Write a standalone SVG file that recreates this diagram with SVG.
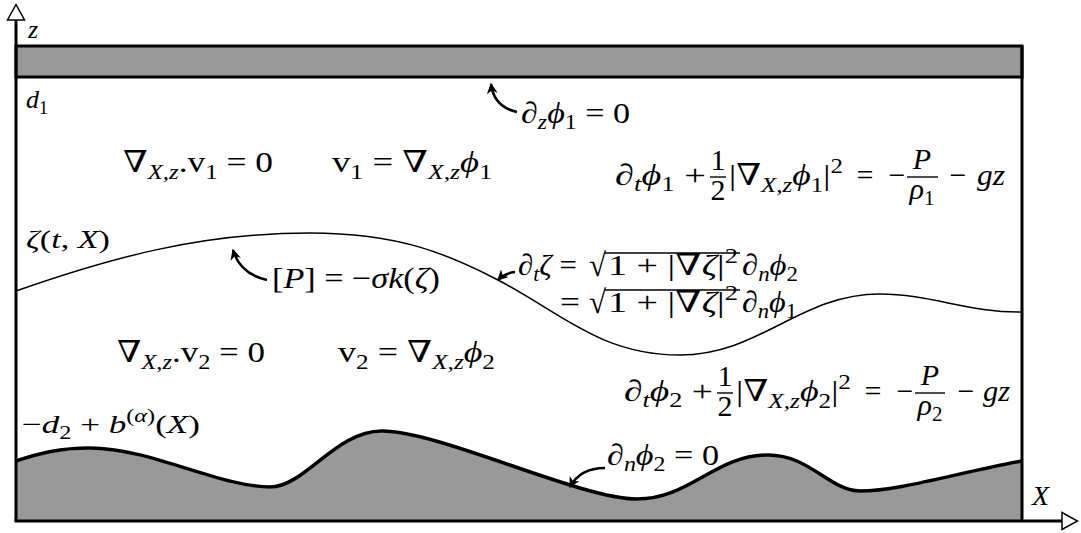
<svg xmlns="http://www.w3.org/2000/svg" width="1081" height="533" viewBox="0 0 1081 533">
<style>
.t{font-family:"Liberation Serif","DejaVu Serif",serif;font-size:30px;fill:#000}
.l{font-size:26px}
.i{font-style:italic}
.s{font-size:21px}
.ss{font-size:18px}
.frame{stroke:#000;stroke-width:3;fill:none}
.wall{stroke:#000;stroke-width:3;fill:#999}
.conn{stroke:#000;stroke-width:2.5;fill:none;marker-end:url(#ah)}
.rule{stroke:#000;stroke-width:1.4}
.rad{font-family:"Liberation Serif","DejaVu Serif",serif;font-size:31px;fill:#000}
</style>
<defs>
<marker id="ah" markerUnits="userSpaceOnUse" markerWidth="12" markerHeight="12" viewBox="0 0 10 10" refX="8" refY="5" orient="auto">
<path d="M0,0.5 L9,5 L0,9.5 L2.5,5 Z" fill="#000"/>
</marker>
</defs>
<rect width="1081" height="533" fill="#fff"/>

<g id="bottom">
<path transform="translate(0,1.5)" d="M16,461 C40,453 60,448 90,448 C150,448 220,487 270,487 C305,487 335,431 382,431 C440,431 580,499 637,499 C690,499 715,455 768,455 C810,455 830,491 860,491 C900,491 960,472 1022,461 L1022,520 L16,520 Z" fill="#999"/>
<path d="M16,461 C40,453 60,448 90,448 C150,448 220,487 270,487 C305,487 335,431 382,431 C440,431 580,499 637,499 C690,499 715,455 768,455 C810,455 830,491 860,491 C900,491 960,472 1022,461" stroke="#000" stroke-width="3.5" fill="none"/>
</g>

<g id="top-wall">
<rect x="16" y="46" width="1006" height="31" class="wall"/>
</g>

<g id="interface">
<path d="M16,291 C110,258 200,233 310,233 C400,233 450,255 498,280 C560,312 600,355 680,355 C760,355 800,294 880,294 C930,294 970,313 1022,312" stroke="#000" stroke-width="1.5" fill="none"/>
</g>

<g id="axes">
<line x1="16" y1="19" x2="16" y2="521" class="frame" stroke-width="2.6"/>
<line x1="1022" y1="46" x2="1022" y2="521" class="frame"/>
<line x1="14.5" y1="521" x2="1062" y2="521" class="frame"/>
<polygon points="7.5,20 16,4.5 24.5,20" fill="#fff" stroke="#000" stroke-width="1.5"/>
<polygon points="1062,512.5 1077.5,521 1062,529.5" fill="#fff" stroke="#000" stroke-width="1.5"/>
<text class="t l i" x="28" y="38">z</text>
<text class="t l i" x="1032" y="505" style="font-size:28px">X</text>
</g>

<g id="connectors">
<path class="conn" d="M517,112 Q494,107 491,84"/>
<path class="conn" d="M267,280 Q240,274 233,250"/>
<path class="conn" d="M515,272 Q505,273 498,280"/>
<path class="conn" d="M605,468 Q580,468 570,487"/>
</g>

<g id="label-d1"><text class="t l" x="26" y="108"><tspan class="i">d</tspan><tspan class="ss" dy="6">1</tspan></text></g>
<g id="label-zeta"><text class="t l" x="26" y="248" textLength="84" lengthAdjust="spacingAndGlyphs"><tspan class="i">ζ</tspan>(<tspan class="i">t</tspan>, <tspan class="i">X</tspan>)</text></g>
<g id="label-bottom"><text class="t l" x="22" y="433" textLength="178" lengthAdjust="spacingAndGlyphs">−<tspan class="i">d</tspan><tspan class="ss" dy="6">2</tspan><tspan dy="-6"> + </tspan><tspan class="i">b</tspan><tspan class="ss" dy="-11">(<tspan class="i">α</tspan>)</tspan><tspan dy="11">(</tspan><tspan class="i">X</tspan>)</text></g>

<g id="bc-top"><text class="t" x="521" y="123" textLength="109" lengthAdjust="spacingAndGlyphs">∂<tspan class="s i" dy="6">z</tspan><tspan class="i" dy="-6">ϕ</tspan><tspan class="s" dy="6">1</tspan><tspan dy="-6"> = 0</tspan></text></g>

<g id="eq-div1"><text class="t" x="123" y="172" textLength="150" lengthAdjust="spacingAndGlyphs">∇<tspan class="s i" dy="7">X,z</tspan><tspan dy="-7">.v</tspan><tspan class="s" dy="7">1</tspan><tspan dy="-7"> = 0</tspan></text></g>
<g id="eq-v1"><text class="t" x="332" y="172" textLength="160" lengthAdjust="spacingAndGlyphs">v<tspan class="s" dy="7">1</tspan><tspan dy="-7"> = ∇</tspan><tspan class="s i" dy="7">X,z</tspan><tspan class="i" dy="-7">ϕ</tspan><tspan class="s" dy="7">1</tspan></text></g>

<g id="eq-bern1">
<text class="t" x="615" y="185" textLength="91" lengthAdjust="spacingAndGlyphs">∂<tspan class="s i" dy="6">t</tspan><tspan class="i" dy="-6">ϕ</tspan><tspan class="s" dy="6">1</tspan><tspan dy="-6"> +</tspan></text>
<text class="t" x="718" y="170" text-anchor="middle">1</text>
<line class="rule" x1="710" y1="177" x2="726" y2="177"/>
<text class="t" x="718" y="200" text-anchor="middle">2</text>
<text class="t" x="729" y="185" textLength="114" lengthAdjust="spacingAndGlyphs">|∇<tspan class="s i" dy="7">X,z</tspan><tspan class="i" dy="-7">ϕ</tspan><tspan class="s" dy="7">1</tspan><tspan dy="-7">|</tspan><tspan class="s" dy="-12">2</tspan></text>
<text class="t" x="865" y="185" text-anchor="middle">=</text>
<text class="t" x="897" y="185" text-anchor="middle">−</text>
<text class="t i" x="922" y="169" text-anchor="middle">P</text>
<line class="rule" x1="907" y1="177" x2="938" y2="177"/>
<text class="t" x="922" y="199" text-anchor="middle"><tspan class="i">ρ</tspan><tspan class="s" dy="6">1</tspan></text>
<text class="t" x="958" y="185" text-anchor="middle">−</text>
<text class="t i" x="977" y="185" textLength="28" lengthAdjust="spacingAndGlyphs">gz</text>
</g>

<g id="eq-kin">
<text class="t" x="518" y="275" textLength="59" lengthAdjust="spacingAndGlyphs">∂<tspan class="s i" dy="6">t</tspan><tspan class="i" dy="-6">ζ</tspan> =</text>
<text class="rad" transform="translate(589,275.5) scale(1,1.05)">√</text>
<line class="rule" x1="605" y1="253" x2="740" y2="253"/>
<text class="t" x="608" y="275" textLength="130" lengthAdjust="spacingAndGlyphs">1 + |∇<tspan class="i">ζ</tspan>|<tspan class="s" dy="-12">2</tspan></text>
<text class="t" x="742" y="275" textLength="56" lengthAdjust="spacingAndGlyphs">∂<tspan class="s i" dy="6">n</tspan><tspan class="i" dy="-6">ϕ</tspan><tspan class="s" dy="6">2</tspan></text>
<text class="t" x="560" y="312" textLength="20" lengthAdjust="spacingAndGlyphs">=</text>
<text class="rad" transform="translate(589,312.5) scale(1,1.05)">√</text>
<line class="rule" x1="605" y1="290" x2="740" y2="290"/>
<text class="t" x="608" y="312" textLength="130" lengthAdjust="spacingAndGlyphs">1 + |∇<tspan class="i">ζ</tspan>|<tspan class="s" dy="-12">2</tspan></text>
<text class="t" x="742" y="312" textLength="55" lengthAdjust="spacingAndGlyphs">∂<tspan class="s i" dy="6">n</tspan><tspan class="i" dy="-6">ϕ</tspan><tspan class="s" dy="6">1</tspan></text>
</g>

<g id="eq-jump"><text class="t" x="272" y="288" textLength="168" lengthAdjust="spacingAndGlyphs">[<tspan class="i">P</tspan>] = −<tspan class="i">σk</tspan>(<tspan class="i">ζ</tspan>)</text></g>

<g id="eq-div2"><text class="t" x="117" y="362" textLength="148" lengthAdjust="spacingAndGlyphs">∇<tspan class="s i" dy="7">X,z</tspan><tspan dy="-7">.v</tspan><tspan class="s" dy="7">2</tspan><tspan dy="-7"> = 0</tspan></text></g>
<g id="eq-v2"><text class="t" x="338" y="362" textLength="157" lengthAdjust="spacingAndGlyphs">v<tspan class="s" dy="7">2</tspan><tspan dy="-7"> = ∇</tspan><tspan class="s i" dy="7">X,z</tspan><tspan class="i" dy="-7">ϕ</tspan><tspan class="s" dy="7">2</tspan></text></g>

<g id="eq-bern2">
<text class="t" x="624" y="401" textLength="89" lengthAdjust="spacingAndGlyphs">∂<tspan class="s i" dy="6">t</tspan><tspan class="i" dy="-6">ϕ</tspan><tspan class="s" dy="6">2</tspan><tspan dy="-6"> +</tspan></text>
<text class="t" x="725" y="386" text-anchor="middle">1</text>
<line class="rule" x1="717" y1="393" x2="733" y2="393"/>
<text class="t" x="725" y="416" text-anchor="middle">2</text>
<text class="t" x="736" y="401" textLength="115" lengthAdjust="spacingAndGlyphs">|∇<tspan class="s i" dy="7">X,z</tspan><tspan class="i" dy="-7">ϕ</tspan><tspan class="s" dy="7">2</tspan><tspan dy="-7">|</tspan><tspan class="s" dy="-12">2</tspan></text>
<text class="t" x="873" y="401" text-anchor="middle">=</text>
<text class="t" x="905" y="401" text-anchor="middle">−</text>
<text class="t i" x="930" y="385" text-anchor="middle">P</text>
<line class="rule" x1="915" y1="393" x2="945" y2="393"/>
<text class="t" x="930" y="415" text-anchor="middle"><tspan class="i">ρ</tspan><tspan class="s" dy="6">2</tspan></text>
<text class="t" x="966" y="401" text-anchor="middle">−</text>
<text class="t i" x="983" y="401" textLength="27" lengthAdjust="spacingAndGlyphs">gz</text>
</g>

<g id="bc-bottom"><text class="t" x="607" y="465" textLength="112" lengthAdjust="spacingAndGlyphs">∂<tspan class="s i" dy="6">n</tspan><tspan class="i" dy="-6">ϕ</tspan><tspan class="s" dy="6">2</tspan><tspan dy="-6"> = 0</tspan></text></g>
</svg>
